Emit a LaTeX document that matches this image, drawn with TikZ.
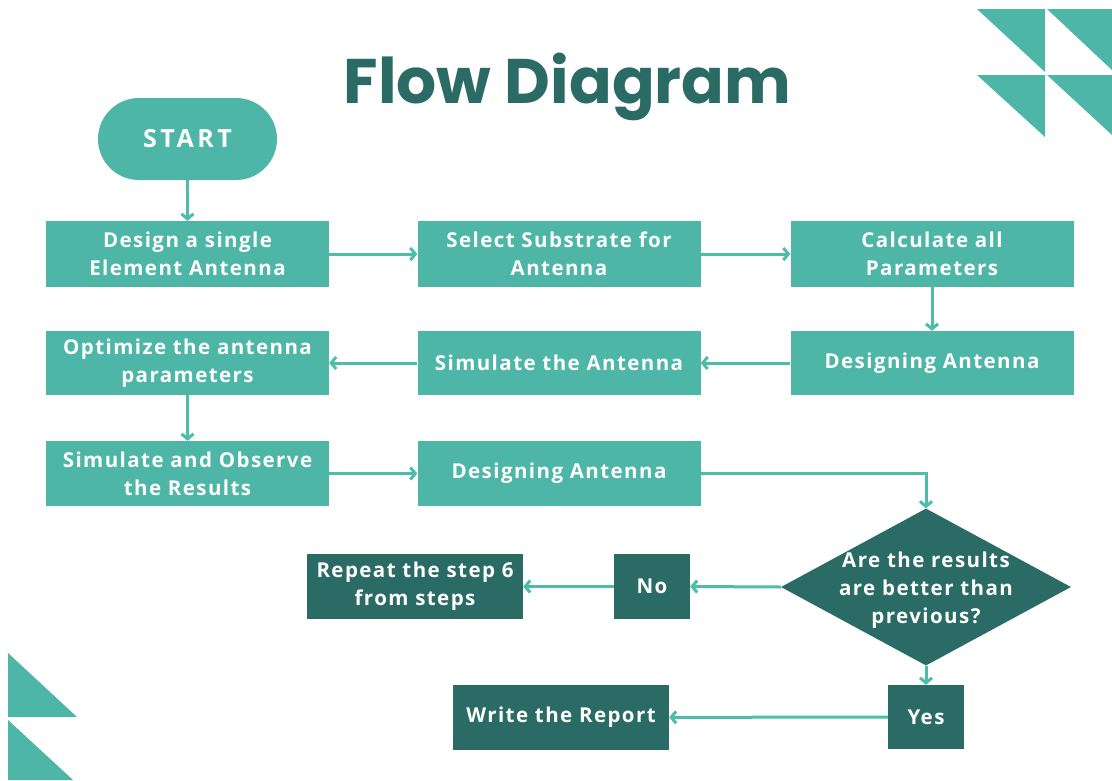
\documentclass[tikz,border=0pt]{standalone}
\usepackage{fontspec}
\setmainfont{Open Sans}[LetterSpace=7]
\newfontfamily\startfont{Open Sans}[LetterSpace=14]
\newfontfamily\titlefont{Poppins}
\usetikzlibrary{arrows.meta,shapes.geometric}
\definecolor{lt}{HTML}{4DB6A6}
\definecolor{dk}{HTML}{2B6B65}
\definecolor{ar}{HTML}{4DBDAA}
\begin{document}
\begin{tikzpicture}[x=1pt,y=-1pt,
  txt/.style={text=white, font=\bfseries\fontsize{20.5}{28}\selectfont, align=center, inner sep=0pt},
  lbox/.style={txt, fill=lt, minimum width=283pt, minimum height=66pt},
  dbox/.style={txt, fill=dk, minimum height=65pt},
  conn/.style={draw=ar, line width=3pt, -{Straight Barb[length=5pt,width=12pt]}}]
\useasboundingbox (0,0) rectangle (1112,780);
\fill[white] (0,0) rectangle (1112,780);
% decorative triangles
\fill[lt] (977,9) -- (1045,9) -- (1045,72) -- cycle;
\fill[lt] (1047,9) -- (1112,9) -- (1112,70) -- cycle;
\fill[lt] (977,75) -- (1045,75) -- (1045,137) -- cycle;
\fill[lt] (1047,75) -- (1112,75) -- (1112,135) -- cycle;
\fill[lt] (8,653) -- (8,717) -- (77,717) -- cycle;
\fill[lt] (8,720) -- (8,780) -- (73,780) -- cycle;
% title
\node[anchor=base, text=dk, inner sep=0pt, font=\titlefont\bfseries\fontsize{63}{63}\selectfont] (title) at (567.5,103) {Flow Diagram};
% nodes
\node[txt, fill=lt, minimum width=179pt, minimum height=82pt, rounded corners=41pt, font=\startfont\bfseries\fontsize{25}{28}\selectfont] (start) at (187.5,139) {START};
\node[lbox] (A) at (187.5,254) {Design a single\\Element Antenna};
\node[lbox] (B) at (559,254) {Select Substrate for\\Antenna};
\node[lbox] (C) at (932,254) {Calculate all\\Parameters};
\node[lbox, minimum height=64pt] (D) at (187.5,363) {Optimize the antenna\\parameters};
\node[lbox, minimum height=64pt] (E) at (559,363) {Simulate the Antenna};
\node[lbox, minimum height=64pt] (F) at (932,363) {Designing Antenna};
\node[lbox, minimum height=65pt] (G) at (187.5,473.5) {Simulate and Observe\\the Results};
\node[lbox, minimum height=65pt] (H) at (559,473.5) {Designing Antenna};
\node[diamond, fill=dk, minimum width=290pt, minimum height=157pt, inner sep=0pt] (q) at (926,587) {};
\node[txt] (qt) at (926,590) {Are the results\\are better than\\previous?};
\node[dbox, minimum width=76pt] (no) at (652,586.5) {No};
\node[dbox, minimum width=216pt] (rep) at (415,586.5) {Repeat the step 6\\from steps};
\node[dbox, minimum width=76pt, minimum height=64pt] (yes) at (926,717) {Yes};
\node[dbox, minimum width=216pt] (report) at (561,717.5) {Write the Report};
% connectors
\draw[conn] (start) -- (A);
\draw[conn] (A) -- (B);
\draw[conn] (B) -- (C);
\draw[conn] (C) -- (F);
\draw[conn] (F) -- (E);
\draw[conn] (E) -- (D);
\draw[conn] (D) -- (G);
\draw[conn] (G) -- (H);
\draw[conn] (H.east) -| (q.north);
\draw[conn] (q.west) -- (no.east);
\draw[conn] (no) -- (rep);
\draw[conn] (q.south) -- (yes.north);
\draw[conn] (yes) -- (report);
\end{tikzpicture}
\end{document}
